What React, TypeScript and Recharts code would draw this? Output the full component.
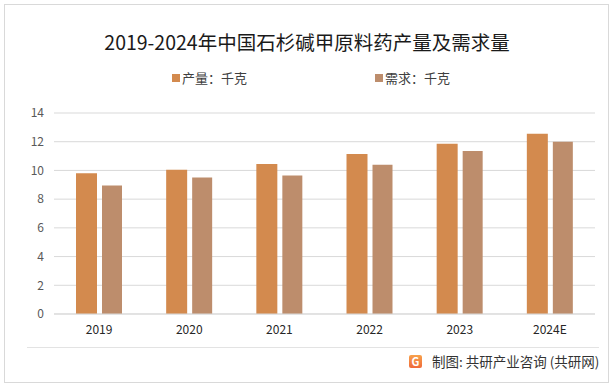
import React from 'react';
import { BarChart, Bar, XAxis, YAxis, CartesianGrid, Legend } from 'recharts';

const years = ['2019', '2020', '2021', '2022', '2023', '2024E'];
const production = [9.8, 10.05, 10.45, 11.15, 11.85, 12.55];
const demand = [8.95, 9.5, 9.65, 10.4, 11.35, 12.0];
const yTicks = [0, 2, 4, 6, 8, 10, 12, 14];

const TITLE = '2019-2024年中国石杉碱甲原料药产量及需求量';
const PROD_NAME = '产量：千克';
const DEM_NAME = '需求：千克';
const SOURCE = '制图: 共研产业咨询 (共研网)';

const data = years.map((y, i) => ({ year: y, prod: production[i], dem: demand[i] }));

const FONT = '"Noto Sans CJK SC", "Noto Sans", sans-serif';

const LegendContent = (props: any) => {
  const payload = props.payload || [];
  const xs = [172, 375];
  return (
    <div style={{ position: 'relative', width: 614, height: 20, fontFamily: FONT }}>
      {payload.map((p: any, i: number) => (
        <div key={i} style={{ position: 'absolute', left: xs[i], top: 0, display: 'flex', alignItems: 'center', fontSize: 13, color: '#404040' }}>
          <span style={{ display: 'inline-block', width: 8, height: 8, background: p.color, marginRight: 2 }} />
          <span>{p.value}</span>
        </div>
      ))}
    </div>
  );
};

export default function App() {
  return (
    <div style={{ position: 'absolute', left: 0, top: 0, width: 614, height: 389, background: '#fff', fontFamily: FONT }}>
      <div style={{ position: 'absolute', left: 4, top: 4, width: 605, height: 379, border: '1px solid #d9d9d9', boxSizing: 'border-box' }} />
      <div style={{ position: 'absolute', left: 0, top: 29, width: 614, textAlign: 'center', fontSize: 19.5, color: '#1a1a1a', lineHeight: '26px' }}>
        {TITLE}
      </div>
      <BarChart
        width={614}
        height={389}
        data={data}
        margin={{ top: 93, right: 19, bottom: 45, left: 0 }}
        barGap={5}
        barCategoryGap="24%"
      >
        <CartesianGrid vertical={false} stroke="#d9d9d9" />
        <XAxis
          dataKey="year"
          height={30}
          tickLine={false}
          tickSize={0}
          tickMargin={11}
          axisLine={{ stroke: '#d9d9d9' }}
          tick={{ fontSize: 12, fill: '#262626', fontFamily: FONT }}
        />
        <YAxis
          width={54}
          domain={[0, 14]}
          ticks={yTicks}
          tickLine={false}
          axisLine={false}
          tickSize={0}
          tickMargin={10}
          tick={{ fontSize: 12, fill: '#595959', fontFamily: FONT }}
        />
        <Legend verticalAlign="top" content={LegendContent} wrapperStyle={{ top: 68, left: 0, width: 614 }} />
        <Bar dataKey="prod" name={PROD_NAME} fill="#D38A4E" barSize={21} isAnimationActive={false} />
        <Bar dataKey="dem" name={DEM_NAME} fill="#BD8D6C" barSize={20} isAnimationActive={false} />
      </BarChart>
      <div style={{ position: 'absolute', left: 27, top: 347, width: 572, height: 1, background: '#e3e3e3' }} />
      <div style={{ position: 'absolute', left: 409, top: 355, width: 13, height: 13, borderRadius: 2, background: 'linear-gradient(180deg, #f7a14a, #f06a3a)', color: '#fff', fontSize: 11, fontWeight: 700, lineHeight: '13px', textAlign: 'center' }}>G</div>
      <div style={{ position: 'absolute', left: 432, top: 352, fontSize: 13.5, color: '#333', lineHeight: '18px', whiteSpace: 'nowrap' }}>
        {SOURCE}
      </div>
    </div>
  );
}
